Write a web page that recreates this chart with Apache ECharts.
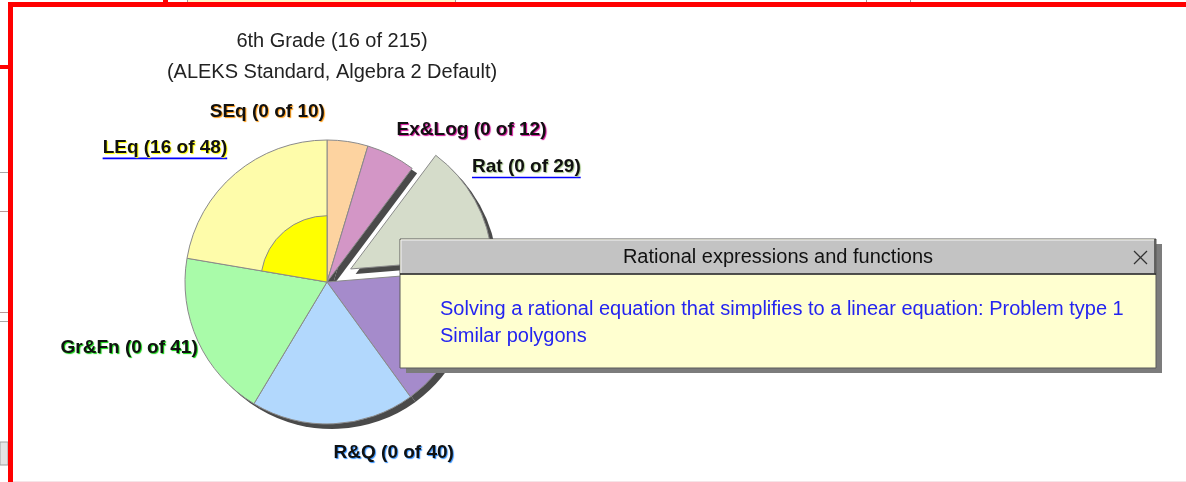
<!DOCTYPE html>
<html>
<head>
<meta charset="utf-8">
<script src="https://cdn.jsdelivr.net/npm/echarts@6/dist/echarts.min.js"></script>
<style>
  html, body { margin: 0; padding: 0; background: #ffffff; }
  #chart { width: 1186px; height: 482px; }
</style>
</head>
<body>
<div id="chart"></div>
<script>
// ---- data -------------------------------------------------------------
const categories     = ['SEq', 'Ex&Log', 'Rat', 'Poly', 'R&Q', 'Gr&Fn', 'LEq'];
const topicTotals    = [10, 12, 29, 35, 40, 41, 48];
const topicMastered  = [0, 0, 0, 0, 0, 0, 16];
const gradeName      = '6th Grade';
const courseName     = '(ALEKS Standard, Algebra 2 Default)';
const openTopic      = 'Rat';
const openTopicTitle = 'Rational expressions and functions';
const openTopicItems = [
  'Solving a rational equation that simplifies to a linear equation: Problem type 1',
  'Similar polygons'
];
const linkedTopics   = ['LEq', 'Rat'];

// ---- styling ----------------------------------------------------------
const sliceColors = ['#FDD3A0', '#D396C6', '#D5DCCA', '#A58BCB', '#B2D8FD', '#A9FBA9', '#FEFCAA'];
const glowColors  = ['#FF9A10', '#D0109A', '#A9C98E', '#7A5CB8', '#2F8FFF', '#10D010', '#FFFF00'];
const masteredColor = '#FFFF00';
const uiFont = '"Liberation Sans", Arial, sans-serif';

// ---- pie geometry -----------------------------------------------------
const CX = 327, CY = 282, R = 142;
const EXPLODE = 27, SHADOW_DX = 5, SHADOW_DY = 5, LABEL_GAP = 8;
const grandTotal = topicTotals.reduce((a, b) => a + b, 0);
const masteredTotal = topicMastered.reduce((a, b) => a + b, 0);
const openIndex = categories.indexOf(openTopic);

// mid angle of each slice, clockwise from 12 o'clock
const midAngles = [];
{
  let acc = 0;
  topicTotals.forEach(v => {
    midAngles.push((acc + v / 2) / grandTotal * 2 * Math.PI);
    acc += v;
  });
}

// which side of its anchor each label sits on, plus small shifts
const labelTweak = [
  { side: 'left', dx: -24, dy: -12 },
  { dx: 2, dy: -8 },
  { dx: -10, dy: -20 },
  { dx: 0, dy: 0 },
  { dx: 0, dy: 11 },
  { dx: 7, dy: -7 },
  { dx: -3, dy: -10 }
];

function labelLayout(p) {
  const i = p.dataIndex;
  const a = midAngles[i];
  const s = Math.sin(a), c = Math.cos(a);
  const rr = R + LABEL_GAP + (i === openIndex ? EXPLODE : 0);
  const ax = CX + rr * s, ay = CY - rr * c;
  const w = p.labelRect.width, h = p.labelRect.height;
  const t = labelTweak[i] || {};
  const side = t.side || (s >= 0 ? 'right' : 'left');
  let left = side === 'right' ? ax : ax - w;
  let top = c >= 0 ? ay - h : ay;
  left += t.dx || 0;
  top += t.dy || 0;
  const out = { x: left, y: top, align: 'left', verticalAlign: 'top' };
  if (linkedTopics.indexOf(categories[i]) >= 0) {
    const uy = top + h + 1;
    out.labelLinePoints = [[left, uy], [left + w, uy]];
  }
  return out;
}

const mainData = categories.map((name, i) => ({
  name: name,
  value: topicTotals[i],
  selected: i === openIndex,
  itemStyle: { color: sliceColors[i] }
}));

const shadowData = categories.map((name, i) => ({
  name: name,
  value: topicTotals[i],
  selected: i === openIndex
}));

const labelData = categories.map((name, i) => ({
  name: name,
  value: topicTotals[i],
  label: { textShadowColor: glowColors[i] },
  labelLine: {
    show: linkedTopics.indexOf(name) >= 0,
    lineStyle: { color: '#0000FF', width: 1.6 }
  }
}));

const masteredRadius = R * (0.2 + 0.8 * topicMastered[6] / topicTotals[6]);
const innerData = categories.map((name, i) => ({
  name: name,
  value: topicTotals[i],
  itemStyle: topicMastered[i] > 0
    ? { color: masteredColor, borderColor: '#8a8a8a', borderWidth: 1 }
    : { color: 'rgba(0,0,0,0)', borderWidth: 0 }
}));

// ---- topic popup ------------------------------------------------------
const POP = { x: 400, y: 239, w: 756, h: 129, bar: 35 };
const popupParts = [
  { type: 'rect', shape: { x: POP.x + 6, y: POP.y + 5, width: POP.w, height: POP.h },
    style: { fill: '#7c7c7c' } },
  { type: 'rect', shape: { x: POP.x, y: POP.y, width: POP.w, height: POP.h },
    style: { fill: '#FFFFD0', stroke: '#5a5a5a', lineWidth: 1 } },
  { type: 'rect', shape: { x: POP.x + 1, y: POP.y + 1, width: POP.w - 2, height: POP.bar - 1 },
    style: { fill: '#C3C3C3', stroke: '#f4f4f4', lineWidth: 1 } },
  { type: 'line', shape: { x1: POP.x, y1: POP.y + POP.bar, x2: POP.x + POP.w, y2: POP.y + POP.bar },
    style: { stroke: '#1a1a1a', lineWidth: 1.5 } },
  { type: 'line', shape: { x1: POP.x + POP.w - 1, y1: POP.y, x2: POP.x + POP.w - 1, y2: POP.y + POP.bar },
    style: { stroke: '#3a3a3a', lineWidth: 1.5 } },
  { type: 'text', x: POP.x + POP.w / 2, y: POP.y + POP.bar / 2 + 1,
    style: { text: openTopicTitle, fill: '#111', font: '20px ' + uiFont,
             align: 'center', verticalAlign: 'middle' } },
  { type: 'line', shape: { x1: POP.x + POP.w - 22, y1: POP.y + 12, x2: POP.x + POP.w - 9, y2: POP.y + 25 },
    style: { stroke: '#333', lineWidth: 1.2 } },
  { type: 'line', shape: { x1: POP.x + POP.w - 22, y1: POP.y + 25, x2: POP.x + POP.w - 9, y2: POP.y + 12 },
    style: { stroke: '#333', lineWidth: 1.2 } },
  { type: 'text', x: POP.x + 40, y: POP.y + 57,
    style: { text: openTopicItems.join('\n'), fill: '#2424F0', font: '20px ' + uiFont,
             lineHeight: 27, align: 'left', verticalAlign: 'top' } }
].map(el => Object.assign(el, { z: 100 }));

// ---- window frame around the chart ------------------------------------
const frame = [
  { type: 'rect', shape: { x: 188, y: 0, width: 267, height: 2 }, style: { fill: '#FFF6CC' } },
  { type: 'rect', shape: { x: 163, y: 0, width: 5, height: 2 }, style: { fill: '#FF0000' } },
  { type: 'rect', shape: { x: 187, y: 0, width: 1, height: 2 }, style: { fill: '#999' } },
  { type: 'rect', shape: { x: 455, y: 0, width: 1, height: 2 }, style: { fill: '#999' } },
  { type: 'rect', shape: { x: 866, y: 0, width: 1, height: 2 }, style: { fill: '#999' } },
  { type: 'rect', shape: { x: 910, y: 0, width: 1, height: 2 }, style: { fill: '#999' } },
  { type: 'rect', shape: { x: 0, y: 172, width: 8, height: 1 }, style: { fill: '#a8a8a8' } },
  { type: 'rect', shape: { x: 0, y: 211, width: 8, height: 1 }, style: { fill: '#b89a9a' } },
  { type: 'rect', shape: { x: 0, y: 312, width: 8, height: 1 }, style: { fill: '#b89a9a' } },
  { type: 'rect', shape: { x: 0, y: 321, width: 8, height: 1 }, style: { fill: '#a8a8a8' } },
  { type: 'rect', shape: { x: 0, y: 442, width: 8, height: 23 }, style: { fill: '#e4e4e4', stroke: '#a0a0a0', lineWidth: 1 } },
  { type: 'rect', shape: { x: 0, y: 65, width: 9, height: 4 }, style: { fill: '#FF0000' } },
  { type: 'rect', shape: { x: 8, y: 2, width: 1178, height: 5 }, style: { fill: '#FF0000' } },
  { type: 'rect', shape: { x: 8, y: 2, width: 5, height: 480 }, style: { fill: '#FF0000' } },
  { type: 'rect', shape: { x: 13, y: 481, width: 1173, height: 1 }, style: { fill: '#F6E4E8' } }
].map(el => Object.assign(el, { z: 90 }));

const pieBase = {
  type: 'pie',
  silent: true,
  radius: R,
  startAngle: 90,
  clockwise: true,
  avoidLabelOverlap: false,
  emphasis: { disabled: true }
};

const chart = echarts.init(document.getElementById('chart'), null, { renderer: 'canvas' });
chart.setOption({
  animation: false,
  backgroundColor: '#ffffff',
  title: {
    text: gradeName + ' (' + masteredTotal + ' of ' + grandTotal + ')\n' + courseName,
    left: CX,
    top: 21,
    textAlign: 'center',
    textStyle: { fontFamily: uiFont, fontSize: 20, fontWeight: 'normal', color: '#222', lineHeight: 31 }
  },
  graphic: frame.concat(popupParts),
  series: [
    Object.assign({}, pieBase, {
      name: 'shadow',
      z: 1,
      center: [CX + SHADOW_DX, CY + SHADOW_DY],
      selectedMode: 'single',
      selectedOffset: EXPLODE,
      itemStyle: { color: '#4a4a4a', borderWidth: 0 },
      label: { show: false },
      labelLine: { show: false },
      data: shadowData
    }),
    Object.assign({}, pieBase, {
      name: 'topics',
      z: 2,
      center: [CX, CY],
      selectedMode: 'single',
      selectedOffset: EXPLODE,
      itemStyle: { borderColor: '#8a8a8a', borderWidth: 1 },
      label: { show: false },
      labelLine: { show: false },
      data: mainData
    }),
    Object.assign({}, pieBase, {
      name: 'mastered',
      z: 3,
      center: [CX, CY],
      radius: masteredRadius,
      selectedMode: false,
      label: { show: false },
      labelLine: { show: false },
      data: innerData
    }),
    Object.assign({}, pieBase, {
      name: 'labels',
      z: 4,
      center: [CX, CY],
      selectedMode: false,
      itemStyle: { color: 'rgba(0,0,0,0)', borderWidth: 0 },
      label: {
        show: true,
        position: 'outside',
        formatter: p => p.name + ' (' + topicMastered[p.dataIndex] + ' of ' + p.value + ')',
        color: '#111',
        fontFamily: uiFont,
        fontWeight: 'bold',
        fontSize: 19,
        lineHeight: 20,
        textShadowBlur: 1,
        textShadowOffsetX: 1,
        textShadowOffsetY: 1
      },
      labelLine: { show: false },
      labelLayout: labelLayout,
      data: labelData
    })
  ]
});
</script>
</body>
</html>
